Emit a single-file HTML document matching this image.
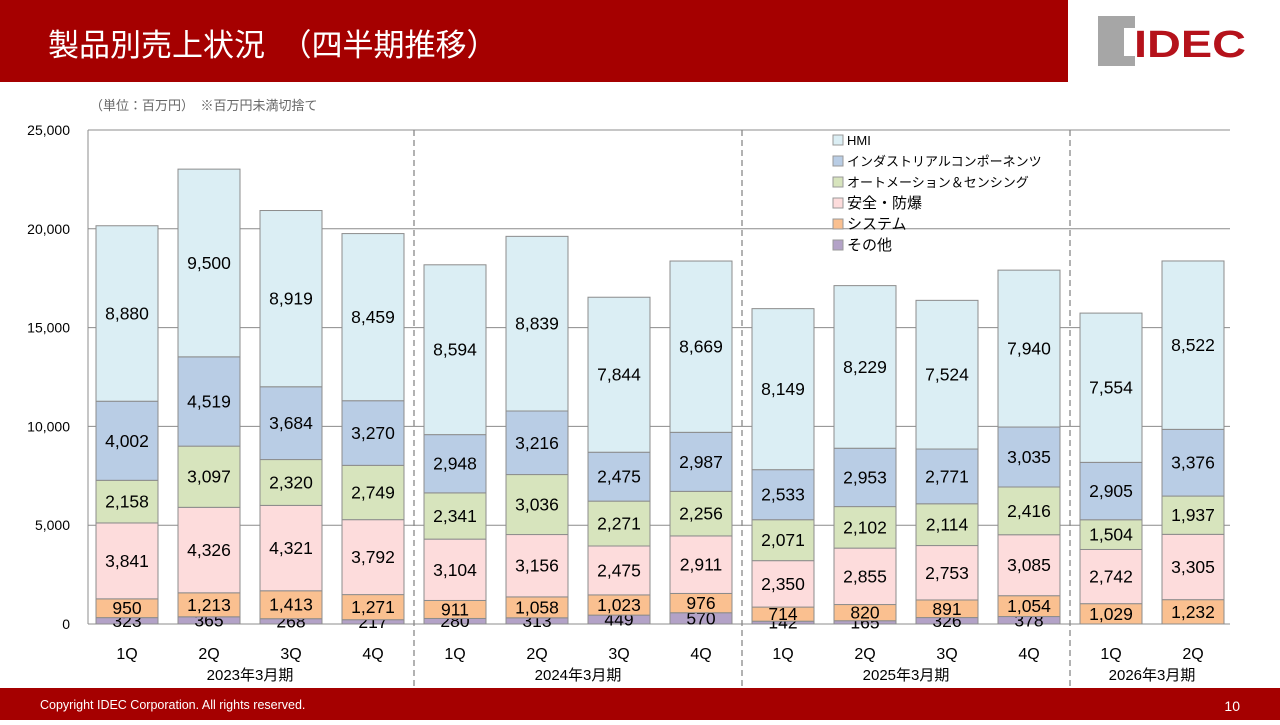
<!DOCTYPE html>
<html><head><meta charset="utf-8"><style>
body{margin:0;width:1280px;height:720px;overflow:hidden;background:#fff;font-family:"Liberation Sans","Noto Sans CJK JP",sans-serif}
svg text{font-family:"Liberation Sans","Noto Sans CJK JP",sans-serif}
</style></head><body>
<svg id="c" width="1280" height="720" xmlns="http://www.w3.org/2000/svg">
<rect x="0" y="0" width="1068" height="82" fill="#a50000"/>
<text x="48" y="56" font-size="31" fill="#fff">製品別売上状況　（四半期推移）</text>
<g>
<rect x="1098" y="16" width="37" height="50" fill="#a6a6a6"/>
<rect x="1124" y="28" width="11" height="28" fill="#fff"/>
<text x="1134" y="57" font-size="38" font-weight="bold" fill="#b5121b" textLength="112" lengthAdjust="spacingAndGlyphs">IDEC</text>
</g>
<text x="90" y="110" font-size="13" fill="#666">（単位：百万円）　※百万円未満切捨て</text>
<g id="grid"></g>
<g id="bars"></g>
<g id="legend"></g>
<rect x="0" y="688" width="1280" height="32" fill="#a50000"/>
<text x="40" y="709" font-size="12.5" fill="#fff">Copyright IDEC Corporation. All rights reserved.</text>
<text x="1240" y="711" font-size="14" fill="#fff" text-anchor="end">10</text>
</svg>
<script>
const categories=["1Q","2Q","3Q","4Q","1Q","2Q","3Q","4Q","1Q","2Q","3Q","4Q","1Q","2Q"];
const groups=["2023年3月期","2024年3月期","2025年3月期","2026年3月期"];
const groupSizes=[4,4,4,2];
const other=[323,365,268,217,280,313,449,570,142,165,326,378,0,0];
const system=[950,1213,1413,1271,911,1058,1023,976,714,820,891,1054,1029,1232];
const safety=[3841,4326,4321,3792,3104,3156,2475,2911,2350,2855,2753,3085,2742,3305];
const automation=[2158,3097,2320,2749,2341,3036,2271,2256,2071,2102,2114,2416,1504,1937];
const industrial=[4002,4519,3684,3270,2948,3216,2475,2987,2533,2953,2771,3035,2905,3376];
const hmi=[8880,9500,8919,8459,8594,8839,7844,8669,8149,8229,7524,7940,7554,8522];
const yTicks=[0,5000,10000,15000,20000,25000];
const seriesNames=["その他","システム","安全・防爆","オートメーション＆センシング","インダストリアルコンポーネンツ","HMI"];
const NS="http://www.w3.org/2000/svg";
const x0=88,x1=1230,yb=624,yt=130,yMax=25000,step=82,bw=62;
const y=v=>yb-v*(yb-yt)/yMax;
const xc=i=>127+i*step;
function mk(t,a,p){const e=document.createElementNS(NS,t);for(const k in a)e.setAttribute(k,a[k]);p.appendChild(e);return e;}
const grid=document.getElementById('grid'),bars=document.getElementById('bars'),leg=document.getElementById('legend');
yTicks.forEach(t=>{
 const l=mk('line',{x1:x0,x2:x1,y1:y(t),y2:y(t),stroke:'#8c8c8c','stroke-width':1},grid);
 
 
 const tx=mk('text',{x:70,y:y(t)+5,'font-size':14,'text-anchor':'end',fill:'#000'},grid);
 tx.textContent=t.toLocaleString('en-US');
 
 
});
const ax=mk('line',{x1:x0,x2:x0,y1:yt,y2:yb,stroke:'#8c8c8c'},grid);


let gi=0;
groups.forEach((g,k)=>{
 const n=groupSizes[k];const start=gi;gi+=n;
 if(k<groups.length-1){const sx=xc(gi)-step/2;
  const d=mk('line',{x1:sx,x2:sx,y1:yt,y2:686,stroke:'#888','stroke-dasharray':'6,4','stroke-width':1.3},grid);
  
  }
 const gt=mk('text',{x:(xc(start)+xc(gi-1))/2,y:680,'font-size':15,'text-anchor':'middle'},grid);
 gt.textContent=g;
 
 
});
const series=[other,system,safety,automation,industrial,hmi];
const colors=["#b3a2c7","#fac090","#fddcdc","#d7e4bd","#b9cde5","#dbeef4"];
categories.forEach((c,i)=>{
 let acc=0;
 series.forEach((s,j)=>{
  const v=s[i];if(v<=0)return;
  const r=mk('rect',{x:xc(i)-bw/2,y:y(acc+v),width:bw,height:y(acc)-y(acc+v),fill:colors[j],stroke:'#8c8c8c','stroke-width':1},bars);
  
  
  const t=mk('text',{x:xc(i),y:(y(acc)+y(acc+v))/2+6,'font-size':17.5,'text-anchor':'middle',fill:'#000'},bars);
  t.textContent=v.toLocaleString('en-US');
  
  
  acc+=v;
 });
 const cl=mk('text',{x:xc(i),y:659,'font-size':16,'text-anchor':'middle'},bars);
 cl.textContent=c;
 
 
});
for(let j=5;j>=0;j--){
 const ry=134+(5-j)*21;
 const sq=mk('rect',{x:833,y:ry+1,width:10,height:10,fill:colors[j],stroke:'#999'},leg);
 
 
 const t=mk('text',{x:847,y:ry+11,'font-size':j>=3?13:15},leg);
 t.textContent=seriesNames[j];
 
 
}
</script>
</body></html>
